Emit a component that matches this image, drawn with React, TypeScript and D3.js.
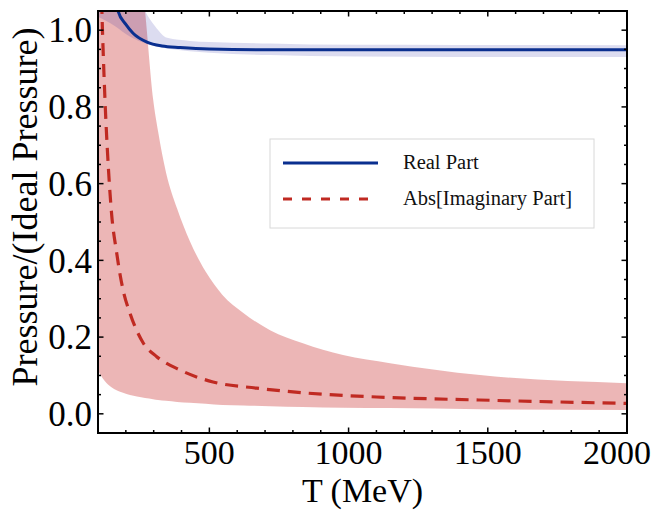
import React from "react";
import * as d3 from "d3";

// T (MeV) vs pressure ratio
const realLine: [number, number][] = [
  [140, 1.25], [172, 1.05], [200, 1.015], [226, 0.992], [276, 0.969], [330, 0.959],
  [395, 0.955], [500, 0.951], [718, 0.949], [1000, 0.949], [1500, 0.949], [2000, 0.949],
];

// [T, lower, upper]
const realBand: [number, number, number][] = [
  [100, 1.035, 1.6], [140, 1.02, 1.45], [172, 1.005, 1.3], [200, 0.99, 1.2],
  [226, 0.979, 1.13], [269, 0.966, 1.05], [305, 0.958, 1.01], [348, 0.952, 0.98],
  [430, 0.945, 0.972], [500, 0.941, 0.969], [718, 0.935, 0.965], [862, 0.933, 0.963],
  [1200, 0.931, 0.962], [2000, 0.93, 0.961],
];

const imagLine: [number, number][] = [
  [104, 1.35], [114, 1.05], [125, 0.82], [137, 0.645], [149, 0.52], [167, 0.42],
  [180, 0.36], [191, 0.32], [215, 0.262], [263, 0.184], [311, 0.149], [395, 0.114],
  [513, 0.083], [670, 0.067], [850, 0.054], [1130, 0.043], [1470, 0.036], [2000, 0.027],
];

const imagBand: [number, number, number][] = [
  [100, 0.112, 2.0], [110, 0.1, 1.9], [125, 0.085, 1.8], [147, 0.07, 1.7],
  [190, 0.055, 1.5], [240, 0.045, 1.25], [269, 0.041, 1.05], [298, 0.038, 0.82],
  [316, 0.036, 0.735], [344, 0.034, 0.63], [384, 0.031, 0.535], [430, 0.029, 0.45],
  [487, 0.026, 0.37], [547, 0.023, 0.31], [622, 0.022, 0.263], [718, 0.02, 0.218],
  [836, 0.018, 0.184], [980, 0.016, 0.153], [1149, 0.015, 0.132], [1472, 0.012, 0.101],
  [2000, 0.01, 0.08],
];

const xMajor = [500, 1000, 1500, 2000];
const xMinor = d3.range(200, 2000, 100).filter(v => v % 500 !== 0);
const yMajor = [0, 0.2, 0.4, 0.6, 0.8, 1.0];
const yMinor = d3.range(1, 21).map(i => i * 0.05).filter(v => Math.abs(v * 5 - Math.round(v * 5)) > 1e-6);

const legendItems = [
  { label: "Real Part", color: "#0a2f8f", dash: "" },
  { label: "Abs[Imaginary Part]", color: "#c02a22", dash: "9,10" },
];

const W = 665;
const H = 510;
const left = 98, right = 627, top = 11, bottom = 433;
const font = "'Liberation Serif', 'Times New Roman', serif";

export default function App() {
  const x = d3.scaleLinear().domain([100, 2000]).range([left, right]);
  const y = d3.scaleLinear().domain([-0.05, 1.05]).range([bottom, top]);

  const line = d3.line<[number, number]>()
    .x(d => x(d[0]))
    .y(d => y(d[1]))
    .curve(d3.curveMonotoneX);

  const area = d3.area<[number, number, number]>()
    .x(d => x(d[0]))
    .y0(d => y(d[1]))
    .y1(d => y(d[2]))
    .curve(d3.curveMonotoneX);

  const major = 5.5, minor = 3;

  return (
    <svg width={W} height={H} style={{ position: "absolute", left: 0, top: 0, background: "#fff" }}>
      <defs>
        <clipPath id="plot">
          <rect x={left} y={top} width={right - left} height={bottom - top} />
        </clipPath>
      </defs>

      <g clipPath="url(#plot)">
        <path d={area(imagBand) || ""} fill="rgb(200,40,40)" fillOpacity={0.34} />
        <path d={area(realBand) || ""} fill="rgb(40,40,160)" fillOpacity={0.16} />
        <path d={line(realLine) || ""} fill="none" stroke="#0a2f8f" strokeWidth={3} />
        <path d={line(imagLine) || ""} fill="none" stroke="#c02a22" strokeWidth={3.2} strokeDasharray="13,8" />
      </g>

      {/* frame ticks, inward on all four sides */}
      <g stroke="#000" strokeWidth={1.5}>
        {xMajor.concat(xMinor).map(v => {
          const len = xMajor.includes(v) ? major : minor;
          return (
            <g key={"x" + v}>
              <line x1={x(v)} x2={x(v)} y1={bottom} y2={bottom - len} />
              <line x1={x(v)} x2={x(v)} y1={top} y2={top + len} />
            </g>
          );
        })}
        {yMajor.concat(yMinor).map(v => {
          const len = yMajor.some(m => Math.abs(m - v) < 1e-6) ? major : minor;
          return (
            <g key={"y" + v}>
              <line x1={left} x2={left + len} y1={y(v)} y2={y(v)} />
              <line x1={right} x2={right - len} y1={y(v)} y2={y(v)} />
            </g>
          );
        })}
      </g>
      <rect x={left} y={top} width={right - left} height={bottom - top} fill="none" stroke="#000" strokeWidth={2} />

      <g fontFamily={font} fontSize={34} fill="#000">
        {xMajor.map((v, i) => (
          <text key={v} x={x(v)} y={464} textAnchor="middle" dx={i === xMajor.length - 1 ? -10 : 0}>{v}</text>
        ))}
        {yMajor.map(v => (
          <text key={v} x={92} y={y(v)} dy="0.35em" textAnchor="end" fontSize={35}>{v.toFixed(1)}</text>
        ))}
        <text x={(left + right) / 2} y={502} textAnchor="middle" fontSize={34}>T (MeV)</text>
        <text transform="translate(37,207) rotate(-90)" textAnchor="middle" fontSize={36}>Pressure/(Ideal Pressure)</text>
      </g>

      {/* legend */}
      <g>
        <rect x={270} y={139} width={324} height={89} fill="#fff" stroke="#d8d8d8" strokeWidth={1} />
        {legendItems.map((d, i) => (
          <g key={d.label} transform={`translate(0,${163 + i * 36})`}>
            <line x1={283} x2={378} stroke={d.color} strokeWidth={3} strokeDasharray={d.dash || undefined} />
            <text x={403} y={6} fontFamily={font} fontSize={20.5} fill="#111">{d.label}</text>
          </g>
        ))}
      </g>
    </svg>
  );
}
